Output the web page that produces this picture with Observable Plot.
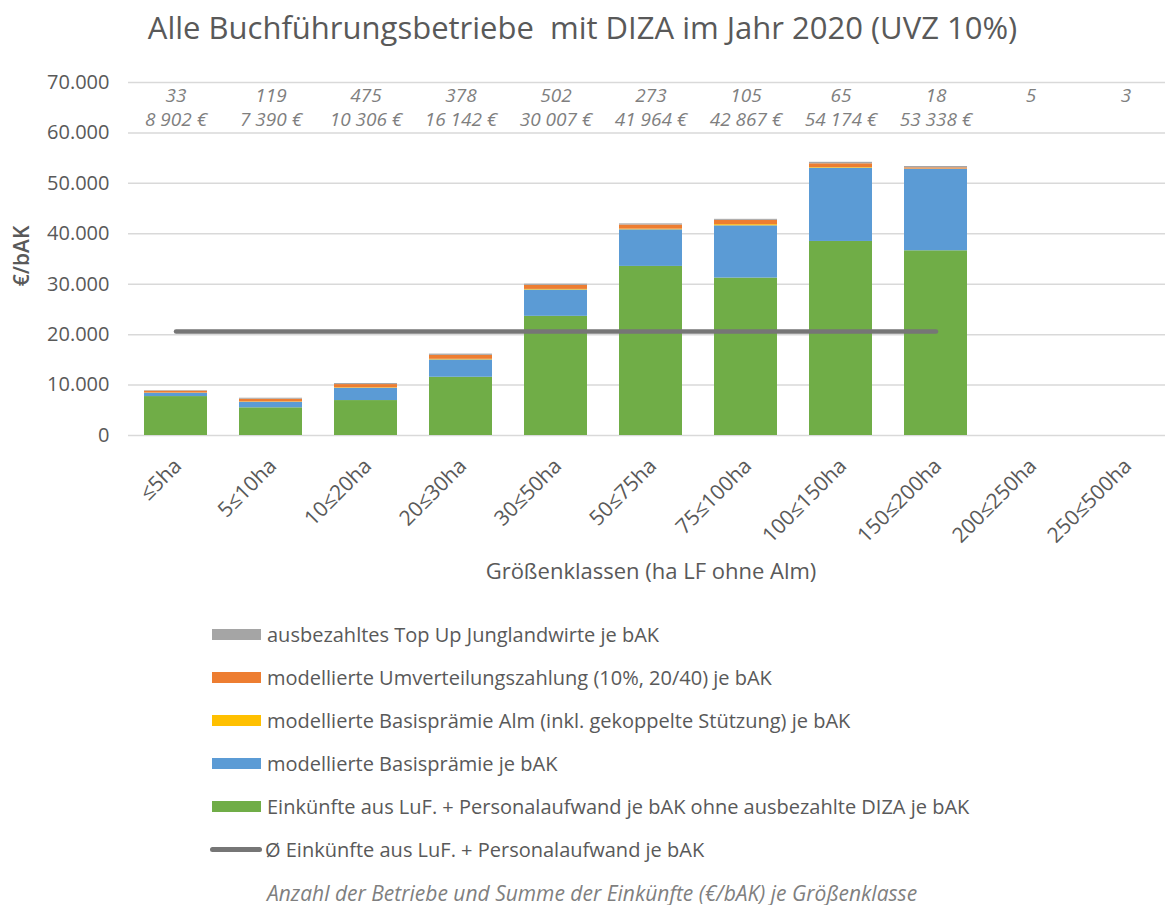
<!DOCTYPE html>
<html><head><meta charset="utf-8">
<script src="https://cdn.jsdelivr.net/npm/d3@7"></script>
<script src="https://cdn.jsdelivr.net/npm/@observablehq/plot@0.6"></script>
<style>
body{margin:0;background:#fff;font-family:"Open Sans",sans-serif;}
#title{height:62px;box-sizing:border-box;padding-top:7px;text-align:center;font-size:31px;color:#595959;line-height:40px;white-space:pre;}
#chart svg{display:block;}
#legend{padding-top:21px;}
.row{height:43px;display:flex;align-items:center;padding-left:212px;font-size:20px;color:#595959;white-space:pre;}
.sw{width:49px;height:11px;margin-right:6px;flex:none;}
.ln{width:52px;height:5px;border-radius:3px;margin-right:3px;flex:none;}
.cap{height:43px;display:flex;align-items:center;padding-left:267px;font-size:21px;font-style:italic;color:#7f7f7f;}
</style>
</head><body>
<div id="title"></div>
<div id="chart"></div>
<div id="legend"></div>
<script>
const titleText = "Alle Buchführungsbetriebe  mit DIZA im Jahr 2020 (UVZ 10%)";
const xTitle = "Größenklassen (ha LF ohne Alm)";
const yTitle = "€/bAK";
const captionText = "Anzahl der Betriebe und Summe der Einkünfte (€/bAK) je Größenklasse";

const categories = ["≤5ha","5≤10ha","10≤20ha","20≤30ha","30≤50ha","50≤75ha","75≤100ha","100≤150ha","150≤200ha","200≤250ha","250≤500ha"];
const einkuenfte      = [7720, 5490, 6930, 11550, 23630, 33530, 31220, 38480, 36630, null, null];
const basispraemie    = [660, 1100, 2440, 3440, 5220, 7260, 10360, 14520, 16170, null, null];
const basispraemieAlm = [40, 70, 90, 120, 120, 130, 220, 120, 40, null, null];
const umverteilung    = [380, 540, 640, 780, 800, 820, 860, 760, 240, null, null];
const topUp           = [102, 190, 206, 252, 237, 224, 207, 294, 258, null, null];
const betriebe = [33, 119, 475, 378, 502, 273, 105, 65, 18, 5, 3];
const summen   = [8902, 7390, 10306, 16142, 30007, 41964, 42867, 54174, 53338, null, null];
const durchschnittKategorien = categories.slice(0, 9);
const durchschnitt = 20600;
const yTicks = [0, 10000, 20000, 30000, 40000, 50000, 60000, 70000];

const seriesNames = [
  "Einkünfte aus LuF. + Personalaufwand je bAK ohne ausbezahlte DIZA je bAK",
  "modellierte Basisprämie je bAK",
  "modellierte Basisprämie Alm (inkl. gekoppelte Stützung) je bAK",
  "modellierte Umverteilungszahlung (10%, 20/40) je bAK",
  "ausbezahltes Top Up Junglandwirte je bAK"
];
const seriesValues = [einkuenfte, basispraemie, basispraemieAlm, umverteilung, topUp];
const seriesColors = ["#70AD47", "#5B9BD5", "#FFC000", "#ED7D31", "#A5A5A5"];
const avgName = "Ø Einkünfte aus LuF. + Personalaufwand je bAK";
const avgColor = "#767676";

const tidy = [];
seriesNames.forEach((s, i) => categories.forEach((c, j) => {
  if (seriesValues[i][j] != null) tidy.push({cat: c, series: s, value: seriesValues[i][j]});
}));
const labels = categories.map((c, j) => ({cat: c, n: betriebe[j], sum: summen[j]}));
const avgData = durchschnittKategorien.map(c => ({cat: c, v: durchschnitt}));

const deY = d3.formatLocale({decimal: ",", thousands: ".", grouping: [3], currency: ["", ""]});
const deSum = d3.formatLocale({decimal: ",", thousands: " ", grouping: [3], currency: ["", " €"]});
const fmtY = deY.format(",d");
const fmtSum = deSum.format("$,d");

document.getElementById("title").textContent = titleText;

const font = "'Open Sans', sans-serif";
const chart = Plot.plot({
  width: 1165,
  height: 530,
  marginTop: 20,
  marginBottom: 157,
  marginLeft: 128,
  marginRight: 0,
  style: {fontFamily: font, background: "#fff"},
  x: {domain: categories, range: [127.5, 1172.5], paddingInner: 0.337, paddingOuter: 0.1685, axis: null},
  y: {domain: [0, 70000], axis: null},
  color: {domain: seriesNames, range: seriesColors},
  marks: [
    Plot.gridY(yTicks, {stroke: "#d9d9d9", strokeOpacity: 1, strokeWidth: 1.5}),
    Plot.axisY(yTicks, {tickSize: 0, tickPadding: 19, tickFormat: fmtY, fontSize: 20, color: "#595959", label: null}),
    Plot.barY(tidy, {x: "cat", y: "value", fill: "series"}),
    Plot.lineY(avgData, {x: "cat", y: "v", stroke: avgColor, strokeWidth: 4.5, strokeLinecap: "round"}),
    Plot.text(labels, {x: "cat", text: d => String(d.n), frameAnchor: "top", lineAnchor: "middle", textAnchor: "middle", dy: 13, fontSize: 19, fontStyle: "italic", fill: "#7f7f7f"}),
    Plot.text(labels.filter(d => d.sum != null), {x: "cat", text: d => fmtSum(d.sum), frameAnchor: "top", lineAnchor: "middle", textAnchor: "middle", dy: 37, fontSize: 19, fontStyle: "italic", fill: "#7f7f7f"}),
    Plot.text(categories, {x: d => d, text: d => d, frameAnchor: "bottom", rotate: -45, textAnchor: "end", lineAnchor: "middle", dy: 27, dx: 2, fontSize: 21, fill: "#595959"}),
    Plot.text([xTitle], {frameAnchor: "bottom", lineAnchor: "middle", textAnchor: "middle", dy: 136, dx: 4, fontSize: 22, fill: "#595959"}),
    Plot.text([yTitle], {frameAnchor: "left", textAnchor: "middle", lineAnchor: "middle", dx: -106, dy: -3, rotate: -90, fontSize: 21, fontWeight: 600, fill: "#595959"})
  ]
});
document.getElementById("chart").appendChild(chart);

const legend = document.getElementById("legend");
for (let i = seriesNames.length - 1; i >= 0; i--) {
  const row = document.createElement("div");
  row.className = "row";
  const sw = document.createElement("span");
  sw.className = "sw";
  sw.style.background = seriesColors[i];
  row.appendChild(sw);
  row.appendChild(document.createTextNode(seriesNames[i]));
  legend.appendChild(row);
}
{
  const row = document.createElement("div");
  row.className = "row";
  row.style.paddingLeft = "210px";
  const ln = document.createElement("span");
  ln.className = "ln";
  ln.style.background = avgColor;
  row.appendChild(ln);
  row.appendChild(document.createTextNode(avgName));
  legend.appendChild(row);
  const cap = document.createElement("div");
  cap.className = "cap";
  cap.textContent = captionText;
  legend.appendChild(cap);
}
</script>
</body></html>
